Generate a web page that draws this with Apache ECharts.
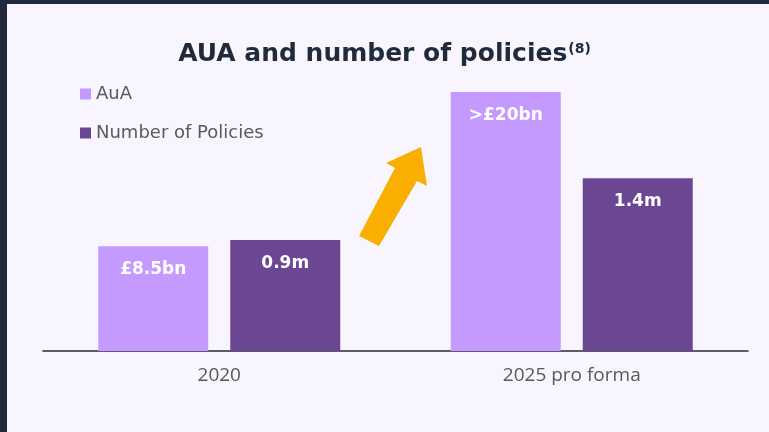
<!DOCTYPE html>
<html>
<head>
<meta charset="utf-8">
<script src="https://cdn.jsdelivr.net/npm/echarts@6/dist/echarts.min.js"></script>
<style>
  html, body { margin: 0; padding: 0; background: #f8f5fe; }
  #chart { width: 769px; height: 432px; }
</style>
</head>
<body>
<div id="chart"></div>
<script>
var categories = ['2020', '2025 pro forma'];
var seriesNames = ['AuA', 'Number of Policies'];
var auaValues = [8.5, 21];
var auaLabels = ['£8.5bn', '>£20bn'];
var policyValues = [0.9, 1.4];
var policyLabels = ['0.9m', '1.4m'];

var chart = echarts.init(document.getElementById('chart'));

var labelStyle = {
    show: true,
    position: 'insideTop',
    distance: 15,
    color: '#ffffff',
    fontFamily: 'DejaVu Sans',
    fontWeight: 'bold',
    fontSize: 17
};

var option = {
    backgroundColor: '#f8f5fe',
    animation: false,
    title: {
        text: '{t|AUA and number of policies}{s|(8)}',
        left: 'center',
        top: 37,
        textStyle: {
            rich: {
                t: { fontFamily: 'DejaVu Sans', fontWeight: 'bold', fontSize: 25, color: '#1f2a3c' },
                s: { fontFamily: 'DejaVu Sans', fontWeight: 'bold', fontSize: 14, color: '#1f2a3c', verticalAlign: 'top', padding: [0, 0, 9, 1] }
            }
        }
    },
    legend: {
        data: seriesNames,
        orient: 'vertical',
        left: 75,
        top: 80,
        itemWidth: 11,
        itemHeight: 11,
        itemGap: 21,
        icon: 'rect',
        textStyle: { fontFamily: 'DejaVu Sans', fontSize: 18, color: '#5a5a5a' }
    },
    grid: { left: 43, right: 21, top: 92, bottom: 81 },
    xAxis: {
        type: 'category',
        data: categories,
        axisLine: { lineStyle: { color: '#2a2a38', width: 1.5 } },
        axisTick: { show: false },
        axisLabel: { margin: 15, fontFamily: 'Open Sans', fontSize: 19, color: '#595959' }
    },
    yAxis: [
        { type: 'value', min: 0, max: 21, show: false, splitLine: { show: false } },
        { type: 'value', min: 0, max: 2.1, show: false, splitLine: { show: false } }
    ],
    series: [
        {
            name: seriesNames[0],
            type: 'bar',
            yAxisIndex: 0,
            data: auaValues,
            barWidth: 110,
            barGap: '20%',
            itemStyle: { color: '#c59aff' },
            label: Object.assign({}, labelStyle, {
                formatter: function (p) { return auaLabels[p.dataIndex]; }
            })
        },
        {
            name: seriesNames[1],
            type: 'bar',
            yAxisIndex: 1,
            data: policyValues,
            barWidth: 110,
            barGap: '20%',
            itemStyle: { color: '#6b4793' },
            label: Object.assign({}, labelStyle, {
                formatter: function (p) { return policyLabels[p.dataIndex]; }
            })
        }
    ],
    graphic: [
        // dark frame strips
        { type: 'rect', left: 0, top: 0, shape: { width: 7, height: 432 }, style: { fill: '#202a3c' }, z: 100 },
        { type: 'rect', left: 0, top: 0, shape: { width: 769, height: 4 }, style: { fill: '#202a3c' }, z: 100 },
        // growth arrow
        {
            type: 'polygon',
            shape: {
                points: [[359, 236], [379, 246], [417, 181], [427, 186], [421, 147], [386, 163], [395, 168]]
            },
            style: { fill: '#f9ae00' },
            z: 50
        }
    ]
};

chart.setOption(option);
</script>
</body>
</html>
